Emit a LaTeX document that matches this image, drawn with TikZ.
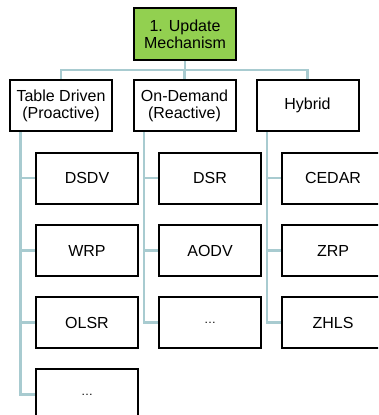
\documentclass[tikz,border=0pt]{standalone}
\usepackage{fontspec}
\setmainfont{Liberation Sans}
\definecolor{topgreen}{HTML}{92D050}
\definecolor{linkc}{HTML}{A8CBD0}
\begin{document}
\begin{tikzpicture}[x=1pt,y=-1pt,
  font=\fontsize{16}{17}\selectfont,
  box/.style={draw=black, line width=2pt, fill=white, minimum width=102pt,
    minimum height=51pt, align=center, inner sep=0pt},
  topbox/.style={box, fill=topgreen, minimum height=52pt},
  conn/.style={draw=linkc, line width=2.5pt}]
\clip (0,0) rectangle (378,415);
\fill[white] (0,0) rectangle (378,415);
% top
\node[topbox] (top) at (185,34) {1. Update\\Mechanism};
% level 1
\node[box] (l1) at (61,105.5) {Table Driven\\(Proactive)};
\node[box] (l2) at (184.5,105.5) {On-Demand\\(Reactive)};
\node[box] (l3) at (307.5,105.5) {Hybrid};
% children
\node[box] (a1) at (87,178) {DSDV};
\node[box] (a2) at (87,250.5) {WRP};
\node[box] (a3) at (87,322.5) {OLSR};
\node[box] (a4) at (87,394.5) {\fontsize{12}{14}\selectfont …};
\node[box] (b1) at (210,178) {DSR};
\node[box] (b2) at (210,250.5) {AODV};
\node[box] (b3) at (210,322.5) {\fontsize{12}{14}\selectfont …};
\node[box] (c1) at (333,178) {CEDAR};
\node[box] (c2) at (333,250.5) {ZRP};
\node[box] (c3) at (333,322.5) {ZHLS};
% connectors
\coordinate (bar) at (185,70);
\draw[conn] (top.south) -- (bar);
\draw[conn] (bar) -| (l1.north);
\draw[conn] (bar) -| (l2.north);
\draw[conn] (bar) -| (l3.north);
\foreach \p/\c in {l1/a1,l1/a2,l1/a3,l1/a4,l2/b1,l2/b2,l2/b3,l3/c1,l3/c2,l3/c3}{
  \draw[conn] (\p.south west) ++(11.5,0) |- (\c.west);
}
\end{tikzpicture}
\end{document}
